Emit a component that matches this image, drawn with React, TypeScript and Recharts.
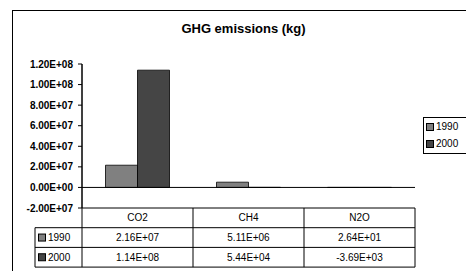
import { Bar, BarChart, ReferenceLine, XAxis, YAxis } from "recharts"

const categories = ["CO2", "CH4", "N2O"]
const years = ["1990", "2000"]
const values1990 = [2.16e7, 5.11e6, 26.4]
const values2000 = [1.14e8, 5.44e4, -3690]
const yTicks = [-2e7, 0, 2e7, 4e7, 6e7, 8e7, 1e8, 1.2e8]
const colors = ["#808080", "#454545"]

const data = categories.map((name, i) => ({
  name,
  y1990: values1990[i],
  y2000: values2000[i],
}))
const seriesValues = [values1990, values2000]

const W = 466
const H = 271
const LEFT = 82
const RIGHT = 51
const TOP = 64
const TABLE_TOP = 208
const ROW = 19.7
const FONT = "'Liberation Sans', Arial, sans-serif"

const sci = (v: number) => {
  const [m, e] = v.toExponential(2).split("e")
  const sign = e[0] === "-" ? "-" : "+"
  const digits = e.replace(/[+-]/, "").padStart(2, "0")
  return `${m}E${sign}${digits}`
}

const colW = (W - LEFT - RIGHT) / categories.length

const TableColumn = ({ x, payload, index }: any) => {
  const left = x - colW / 2
  const right = x + colW / 2
  const yRows = [TABLE_TOP, TABLE_TOP + ROW, TABLE_TOP + 2 * ROW, TABLE_TOP + 3 * ROW]
  return (
    <g fontFamily={FONT} fontSize={10} fill="#000">
      {yRows.map((yy) => (
        <line key={yy} x1={left} x2={right} y1={yy} y2={yy} stroke="#000" />
      ))}
      <line x1={right} x2={right} y1={yRows[0]} y2={yRows[3]} stroke="#000" />
      <text x={x} y={yRows[0] + ROW / 2} textAnchor="middle" dominantBaseline="central">
        {payload.value}
      </text>
      {seriesValues.map((vals, r) => (
        <text key={r} x={x} y={yRows[r + 1] + ROW / 2} textAnchor="middle" dominantBaseline="central">
          {sci(vals[index])}
        </text>
      ))}
      {index === 0 && (
        <g>
          <line x1={left} x2={left} y1={TOP} y2={yRows[3]} stroke="#000" />
          <line x1={35} x2={left} y1={yRows[1]} y2={yRows[1]} stroke="#000" />
          <line x1={35} x2={left} y1={yRows[2]} y2={yRows[2]} stroke="#000" />
          <line x1={35} x2={left} y1={yRows[3]} y2={yRows[3]} stroke="#000" />
          <line x1={35} x2={35} y1={yRows[1]} y2={yRows[3]} stroke="#000" />
          {years.map((yr, r) => (
            <g key={yr}>
              <rect x={38.5} y={yRows[r + 1] + ROW / 2 - 3.5} width={7} height={7} fill={colors[r]} stroke="#000" />
              <text x={48} y={yRows[r + 1] + ROW / 2} dominantBaseline="central">
                {yr}
              </text>
            </g>
          ))}
        </g>
      )}
    </g>
  )
}

export default function App() {
  return (
    <div style={{ position: "relative", width: W, height: H, overflow: "hidden", background: "#fff", fontFamily: FONT }}>
      <style>{`body{margin:0}`}</style>
      <div style={{ position: "absolute", left: 12, top: 10, width: W, height: H, border: "1px solid #000" }} />
      <div
        style={{
          position: "absolute",
          left: 0,
          width: 487,
          top: 21,
          textAlign: "center",
          fontWeight: "bold",
          fontSize: 13,
          lineHeight: "16px",
        }}
      >
        GHG emissions (kg)
      </div>
      <BarChart
        width={W}
        height={H}
        data={data}
        margin={{ top: TOP, right: RIGHT, left: 0, bottom: 0 }}
        barCategoryGap={23.5}
        barGap={0}
        style={{ position: "absolute", left: 0, top: 0 }}
      >
        <YAxis
          width={LEFT}
          domain={[-2e7, 1.2e8]}
          ticks={yTicks}
          interval={0}
          tickFormatter={sci}
          stroke="#000"
          tickSize={4}
          tickMargin={5}
          tick={{ fill: "#000", fontSize: 10, fontWeight: "bold", fontFamily: FONT }}
        />
        <XAxis
          dataKey="name"
          height={H - TABLE_TOP}
          axisLine={false}
          tickLine={false}
          tick={<TableColumn />}
          interval={0}
        />
        <ReferenceLine y={0} stroke="#000" />
        <Bar dataKey="y1990" fill={colors[0]} stroke="#000" strokeWidth={0.8} isAnimationActive={false} />
        <Bar dataKey="y2000" fill={colors[1]} stroke="#000" strokeWidth={0.8} isAnimationActive={false} />
      </BarChart>
      <div
        style={{
          position: "absolute",
          left: 423,
          top: 117,
          width: 60,
          height: 35,
          border: "1px solid #000",
          background: "#fff",
          fontSize: 10,
        }}
      >
        {years.map((yr, i) => (
          <div key={yr} style={{ display: "flex", alignItems: "center", height: 17, paddingLeft: 2 }}>
            <span style={{ width: 6, height: 6, background: colors[i], border: "1px solid #000", marginRight: 2 }} />
            {yr}
          </div>
        ))}
      </div>
    </div>
  )
}
